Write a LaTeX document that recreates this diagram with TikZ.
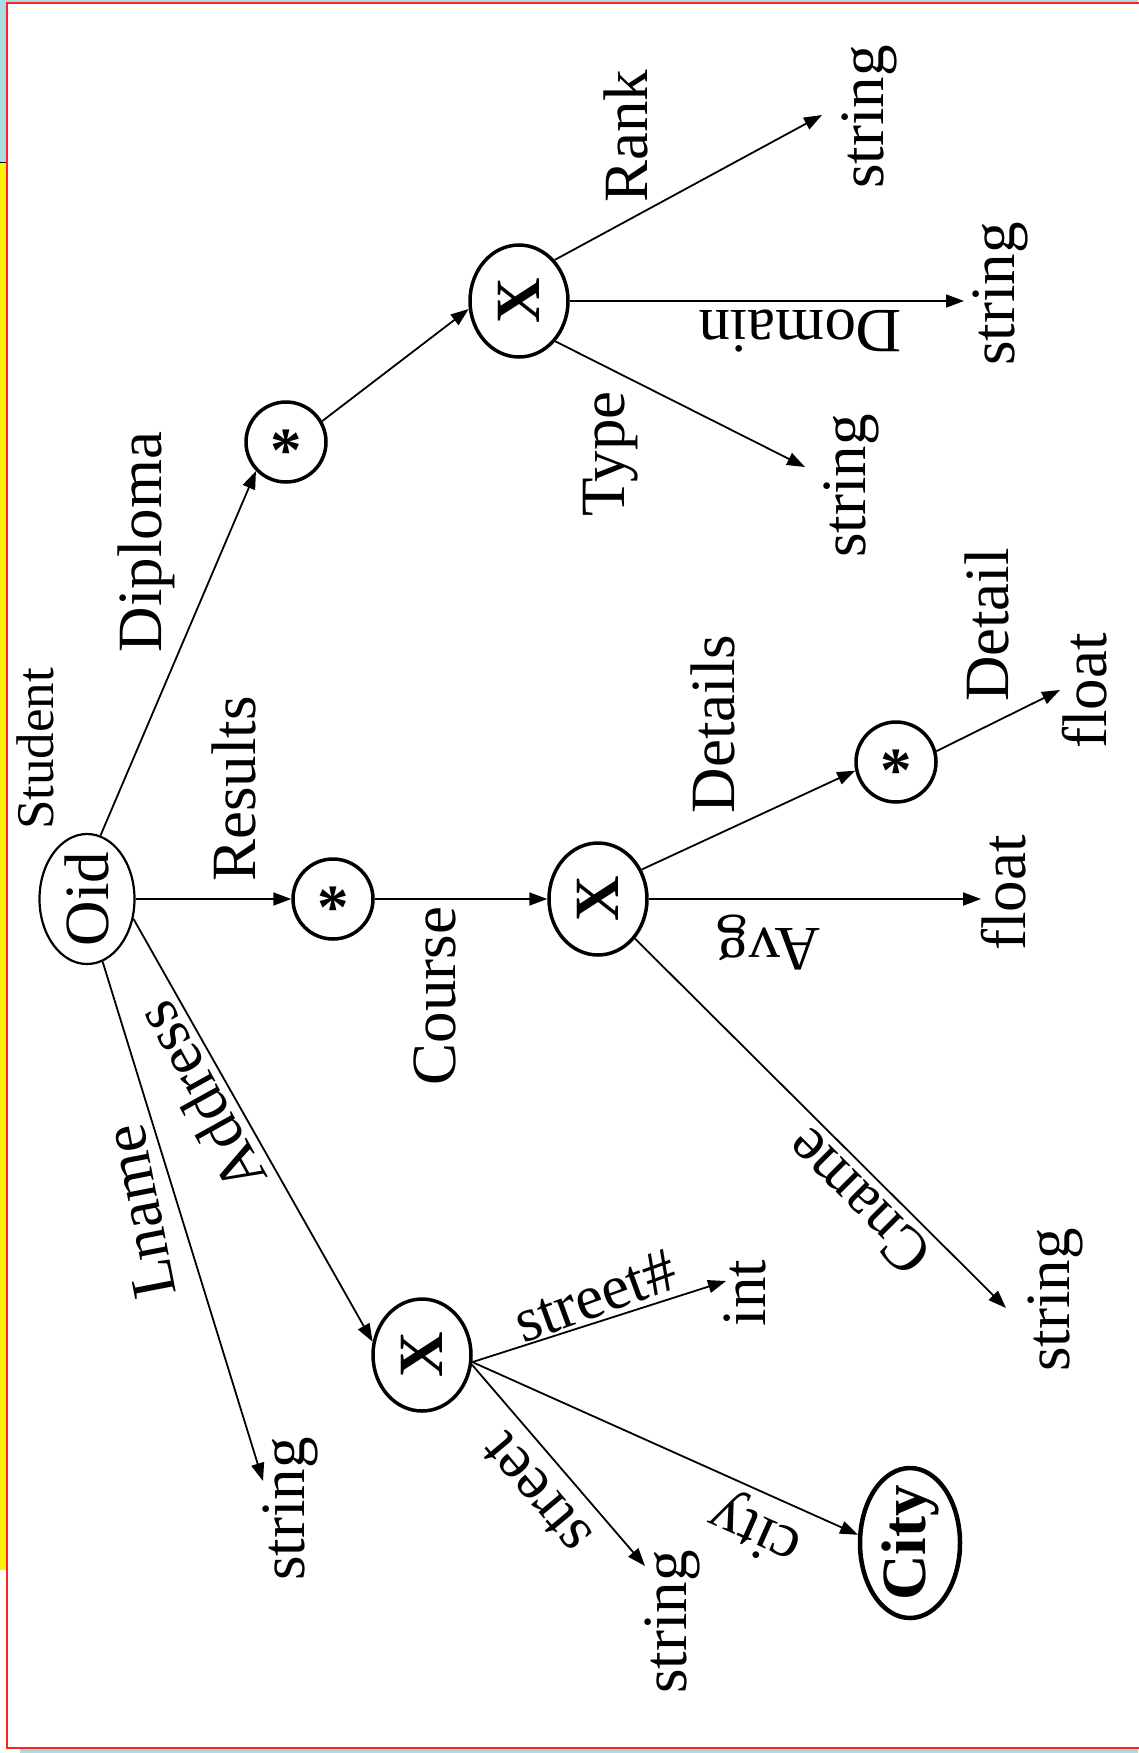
\documentclass[tikz,border=0pt]{standalone}
\usepackage{fontspec}
\setmainfont{Liberation Serif}
\usetikzlibrary{arrows.meta,shapes.geometric}
\definecolor{bgblue}{HTML}{A9DCE3}
\definecolor{framered}{HTML}{FF2020}
\newcommand{\bigfont}{\fontsize{63}{63}\selectfont}
\newcommand{\starglyph}{\raisebox{-0.47em}[0pt][0pt]{\textbf{*}}}
\begin{document}
\begin{tikzpicture}[x=1pt,y=-1pt,
  lbl/.style={inner sep=0pt, font=\bigfont},
  lv/.style={lbl, rotate=90},
  edge/.style={line width=1.8pt, -{Triangle[length=18pt,width=13pt]}},
  xnode/.style={ellipse, draw, line width=3.5pt, inner sep=0pt,
    minimum width=112pt, minimum height=98pt, rotate=90, font=\bigfont\bfseries},
  starnode/.style={circle, draw, line width=3.5pt, inner sep=0pt,
    minimum size=80pt, font=\bigfont},
  oidnode/.style={ellipse, draw, line width=2.2pt, inner sep=-1.5pt,
    minimum width=130pt, minimum height=95pt, rotate=90, font=\bigfont},
  citynode/.style={ellipse, draw, line width=4.5pt, inner sep=-5pt,
    minimum width=150pt, minimum height=100pt, rotate=90, font=\bigfont\bfseries}]
\useasboundingbox (0,0) rectangle (1138,1753);
% background
\fill[bgblue] (0,0) rectangle (1138,1753);
\fill[yellow] (0,162) rectangle (6,1570);
\draw[black, line width=1pt] (0,162) -- (6,162) (0,1570) -- (6,1570);
\fill[white] (0,1570) rectangle (20,1753);
\filldraw[fill=white, draw=framered, line width=2pt] (7,3) rectangle (1150,1748);

% structural nodes
\node[oidnode] (oid) at (87,899) {Oid};
\node[lv, font=\fontsize{53}{53}\selectfont] (stu) at (35,749) {Student};
\node[starnode] (sD) at (286,442) {\starglyph};
\node[starnode] (sR) at (333,899) {\starglyph};
\node[xnode] (xD) at (519,301) {X};
\node[xnode] (xR) at (598,899) {X};
\node[starnode] (sDt) at (896,762) {\starglyph};
\node[xnode] (xA) at (422,1355) {X};
\node[citynode] (city) at (910,1543) {City};

% leaf type nodes
\node[lv] (tR) at (869,117) {string};
\node[lv] (tD) at (1000,294) {string};
\node[lv] (tT) at (851,486) {string};
\node[lv] (tDt) at (1085,691) {float};
\node[lv] (tA) at (1004,893) {float};
\node[lv] (tC) at (1055,1300) {string};
\node[lv] (tI) at (745,1293) {int};
\node[lv] (tS) at (672,1622) {string};
\node[lv] (tL) at (290,1509) {string};

% arrow end points
\coordinate (cR) at (822,115);
\coordinate (cD) at (964,301);
\coordinate (cT) at (805,467);
\coordinate (cDt) at (1060,690);
\coordinate (cA) at (981,899);
\coordinate (cC) at (1006,1308);
\coordinate (cI) at (726,1281);
\coordinate (cS) at (645,1566);
\coordinate (cL) at (263,1481);

% edge labels
\node[lv] (lDip) at (146,542) {Diploma};
\node[lv] (lRes) at (234,789) {Results};
\node[lbl, rotate=101] (lLn) at (140,1212) {Lname};
\node[lbl, rotate=119] (lAdr) at (200,1098) {Address};
\node[lv] (lCo) at (435,996) {Course};
\node[lv] (lRk) at (626,136) {Rank};
\node[lbl, rotate=180] (lDom) at (800,331) {Domain};
\node[lv] (lTy) at (611,454) {Type};
\node[lv] (lDts) at (713,724) {Details};
\node[lv] (lDt) at (987,625) {Detail};
\node[lbl, rotate=180] (lAvg) at (769,942) {Avg};
\node[lbl, rotate=135] (lCn) at (858,1202) {Cname};
\node[lbl, rotate=20] (lSn) at (595,1296) {street\#};
\node[lbl, rotate=130] (lSt) at (537,1493) {street};
\node[lbl, rotate=156] (lCi) at (756,1528) {city};

% connectors
\draw[edge] (oid) -- (sR);
\draw[edge] (oid.348) -- (sD.224);
\draw[edge] (oid.194) -- (cL);
\draw[edge] (oid.247) -- (xA.75);
\draw[edge] (sD.30) -- (xD.99);
\draw[edge] (xD.319) -- (cR);
\draw[edge] (xD) -- (cD);
\draw[edge] (xD.222) -- (cT);
\draw[edge] (sR) -- (xR);
\draw[edge] (xR.304) -- (sDt.192);
\draw[edge] (sDt.15) -- (cDt);
\draw[edge] (xR) -- (cA);
\draw[edge] (xR.223) -- (cC);
\draw[edge] (xA.262) -- (cI);
\draw[edge] (xA.259) -- (cS);
\draw[edge] (xA.262) -- (city.81);
\end{tikzpicture}
\end{document}
